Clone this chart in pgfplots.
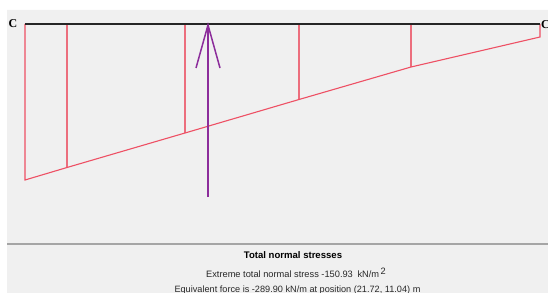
\documentclass[border=0pt]{standalone}
\usepackage{pgfplots}
\pgfplotsset{compat=1.18}
\usepackage{fontspec}
\setmainfont{Liberation Sans}
\newfontfamily\cfont{Liberation Serif}
\definecolor{bggray}{RGB}{240,240,240}
\definecolor{sepgray}{RGB}{165,165,165}
\definecolor{stressred}{RGB}{238,80,100}
\definecolor{vertred}{RGB}{236,110,125}
\definecolor{arrowpurple}{RGB}{140,45,155}
\definecolor{txtgray}{RGB}{40,40,40}
\begin{document}
\begin{tikzpicture}
\begin{axis}[
  scale only axis, width=548bp, height=293bp,
  xmin=0, xmax=548, ymin=0, ymax=293, y dir=reverse,
  axis lines=none, ticks=none, clip=true,
  unbounded coords=jump,
]
% background panel
\addplot[fill=bggray, draw=none] coordinates {(7,10) (548,10) (548,293) (7,293) (7,10)};
% separator
\addplot[sepgray, line width=1.2bp] coordinates {(7,244) (548,244)};
% inner vertical lines
\addplot[draw=vertred, line width=1.1bp] coordinates {
  (67,24) (67,167.5)
  (67,nan)
  (185,24) (185,133)
  (185,nan)
  (299,24) (299,99.5)
  (299,nan)
  (411,24) (411,67)};
% stress diagram outline
\addplot[draw=stressred, line width=1.1bp] coordinates {
  (25,24) (25,180) (67,167.5) (185,133) (299,99.5) (411,67) (540,37) (540,24)};
% structure line
\addplot[black!85, line width=2bp] coordinates {(25,24) (540,24)};
% equivalent force arrow
\addplot[arrowpurple, line width=1.5bp] coordinates {(208,197) (208,25)};
\addplot[arrowpurple, line width=1.5bp] coordinates {(196,68) (208,25) (220,68)};
% labels
\node[font=\cfont\bfseries\fontsize{12}{12}\selectfont, anchor=center] at (axis cs:13,24) {C};
\node[font=\cfont\bfseries\fontsize{12}{12}\selectfont, anchor=west, inner sep=0pt] at (axis cs:541,25) {C};
\node[font=\bfseries\fontsize{9.6}{9.6}\selectfont, anchor=center] at (axis cs:293,255) {Total normal stresses};
\node[font=\fontsize{9.3}{9.3}\selectfont, text=txtgray, anchor=center] at (axis cs:296,273) {Extreme total normal stress -150.93\enspace kN/m\,\raisebox{3bp}{2}};
\node[font=\fontsize{9.2}{9.2}\selectfont, text=txtgray, anchor=west] at (axis cs:171,290) {Equivalent force is -289.90 kN/m at position (21.72, 11.04) m};
\end{axis}
\pgfresetboundingbox
\path[use as bounding box] (current axis.south west) rectangle (current axis.north east);
\end{tikzpicture}
\end{document}
